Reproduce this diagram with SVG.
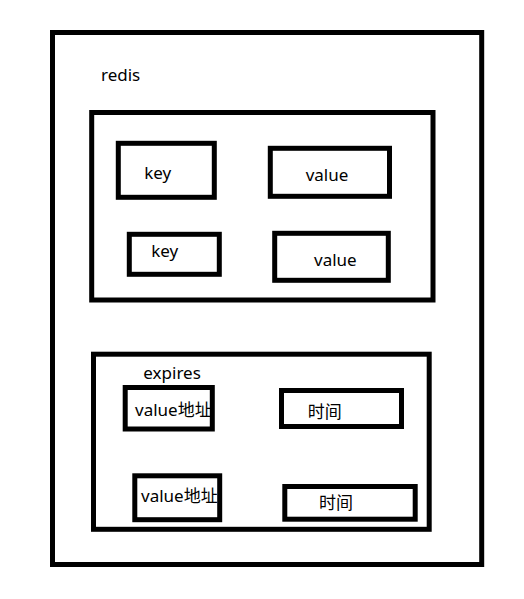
<svg xmlns="http://www.w3.org/2000/svg" width="524" height="599" viewBox="0 0 524 599">
<style>
.box{fill:none;stroke:#000;stroke-width:5}
.t{font-family:"Noto Sans","Noto Sans CJK SC",sans-serif;font-size:17px;fill:#000}
</style>
<rect width="524" height="599" fill="#fff"/>
<g id="redis">
<rect class="box" x="52.5" y="32.5" width="429.2" height="532"/>
<text class="t" x="101" y="81">redis</text>
</g>
<g id="dict">
<rect class="box" x="91.7" y="112.5" width="341.3" height="187.5"/>
</g>
<g id="key1">
<rect class="box" x="118.3" y="143.3" width="96" height="54"/>
<text class="t" x="144.3" y="179.3">key</text>
</g>
<g id="value1">
<rect class="box" x="270.3" y="148.3" width="119.2" height="48"/>
<text class="t" x="305.7" y="181">value</text>
</g>
<g id="key2">
<rect class="box" x="129.3" y="234.3" width="90" height="40"/>
<text class="t" x="151.3" y="257.3">key</text>
</g>
<g id="value2">
<rect class="box" x="274.7" y="233.3" width="113.6" height="47"/>
<text class="t" x="314" y="266">value</text>
</g>
<g id="expires">
<rect class="box" x="93.5" y="354.2" width="335.7" height="175.1"/>
<text class="t" x="143.3" y="379.3">expires</text>
</g>
<g id="addr1">
<rect class="box" x="125.2" y="387.5" width="87.1" height="41.5"/>
<text class="t" x="135" y="416">value地址</text>
</g>
<g id="time1">
<rect class="box" x="281.5" y="390.5" width="120" height="36"/>
<text class="t" x="307.7" y="418.3">时间</text>
</g>
<g id="addr2">
<rect class="box" x="134.8" y="475.8" width="84.9" height="43.9"/>
<text class="t" x="141" y="501.7">value地址</text>
</g>
<g id="time2">
<rect class="box" x="284.8" y="486.5" width="130.4" height="32.7"/>
<text class="t" x="319" y="509.3">时间</text>
</g>
<g id="connectors"></g>
</svg>
